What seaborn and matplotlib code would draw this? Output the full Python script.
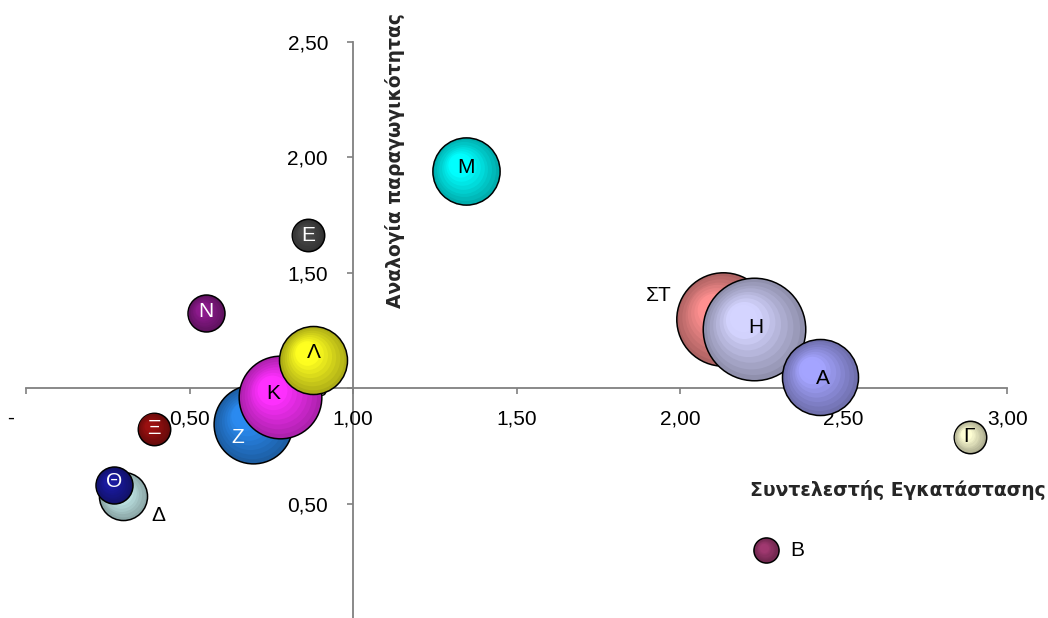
import matplotlib
matplotlib.use("Agg")
import numpy as np
import pandas as pd
import matplotlib.pyplot as plt
import matplotlib.transforms as mtransforms
from matplotlib.colors import to_rgb
from matplotlib.ticker import FuncFormatter, FixedLocator
import seaborn as sns

# data (drawing order = list order)
labels = ["Δ", "Θ", "Ξ", "Ν", "Ε", "Ζ", "Κ", "Λ", "Μ", "ΣΤ", "Η", "Α", "Γ", "Β"]
install_factor = [0.298, 0.268, 0.390, 0.549, 0.862, 0.694, 0.777, 0.879, 1.346, 2.130, 2.226, 2.427, 2.885, 2.263]
productivity = [0.535, 0.579, 0.824, 1.324, 1.662, 0.845, 0.960, 1.123, 1.940, 1.298, 1.255, 1.047, 0.787, 0.299]
bubble_size = [22, 13, 10, 13, 10, 59, 65, 44, 43, 83, 100, 55, 10, 6]

# bubble centre colours, label colours and label offsets (pixels)
centre_colors = ["#CCF5F5", "#1A1A9E", "#9A1010", "#8C1A8C", "#4A4A4A", "#2A8AF0", "#FF30FF",
                 "#FFFF20", "#00FFFF", "#FF9090", "#D4D4FF", "#A4A4FF", "#FFFFD4", "#A03870"]
text_colors = ["black", "white", "white", "white", "white", "white", "black",
               "black", "black", "black", "black", "black", "black", "black"]
label_offsets = [(35, -20), (0, 4), (0, 0), (0, 2), (0, 0), (-15, -14), (-7, 4),
                 (0, 7), (0, 4), (-64, 24), (2, 2), (3, -1), (-1, 1), (31, -1)]

x_ticks = [0, 0.5, 1.0, 1.5, 2.0, 2.5, 3.0]
y_ticks = [0.5, 1.0, 1.5, 2.0, 2.5]

df = pd.DataFrame({"label": labels, "x": install_factor, "y": productivity, "size": bubble_size})

sns.set_style("white")
plt.rcParams["font.family"] = ["Liberation Sans", "DejaVu Sans"]

fig, ax = plt.subplots(figsize=(10.48, 6.18), dpi=100)
fig.subplots_adjust(left=0.0248, right=0.961, bottom=-0.0016, top=0.932)

S_MAX = 5450
edge_palette = {lab: tuple(0.68 * c for c in to_rgb(col)) for lab, col in zip(labels, centre_colors)}

n_layers = 9
for i in range(len(df)):
    sns.scatterplot(data=df.iloc[[i]], x="x", y="y", hue="label", palette=edge_palette,
                    size="size", sizes=(0, S_MAX), size_norm=(0, 100),
                    edgecolor="black", linewidth=1.1, legend=False, ax=ax)
    s = df["size"].iloc[i] / 100 * S_MAX
    r_pt = np.sqrt(s) / 2
    c_out = np.array(edge_palette[labels[i]])
    c_in = np.array(to_rgb(centre_colors[i]))
    for k in range(1, n_layers + 1):
        f = 1 - 0.82 * k / n_layers
        t = k / n_layers
        col = c_out + (c_in - c_out) * min(1, t * 1.25)
        off = (1 - f) * 0.3 * r_pt / 72
        tr = ax.transData + mtransforms.ScaledTranslation(-off, off, fig.dpi_scale_trans)
        ax.scatter(df["x"].iloc[i], df["y"].iloc[i], s=s * f * f, color=col,
                   linewidths=0, transform=tr)

for i in range(len(df)):
    dx, dy = label_offsets[i]
    ax.annotate(labels[i], (df["x"].iloc[i], df["y"].iloc[i]), xytext=(dx * 0.72, dy * 0.72),
                textcoords="offset points", ha="center", va="center",
                fontsize=15, color=text_colors[i], zorder=5)

ax.set_xlim(0, 3)
ax.set_ylim(0, 2.5)
for side in ["top", "right"]:
    ax.spines[side].set_visible(False)
ax.spines["left"].set_position(("data", 1.0))
ax.spines["bottom"].set_position(("data", 1.0))
for side in ["left", "bottom"]:
    ax.spines[side].set_color("#808080")
    ax.spines[side].set_linewidth(1.3)
    ax.spines[side].set_zorder(0.5)

ax.xaxis.set_major_locator(FixedLocator(x_ticks))
ax.yaxis.set_major_locator(FixedLocator(y_ticks))


def greek_fmt(v, pos):
    if abs(v) < 1e-9:
        return "-     "
    return f"{v:.2f}".replace(".", ",")


ax.xaxis.set_major_formatter(FuncFormatter(greek_fmt))
ax.yaxis.set_major_formatter(FuncFormatter(greek_fmt))
ax.tick_params(axis="both", direction="out", length=4, width=1.2, color="#808080",
               labelsize=15, labelcolor="black")
ax.tick_params(axis="x", pad=11, bottom=True)
ax.tick_params(axis="y", pad=14, left=True)
ax.set_xlabel("")
ax.set_ylabel("")

ax.text(1.0398, 0.2236, "Συντελεστής Εγκατάστασης", transform=ax.transAxes,
        ha="right", va="center", fontsize=13.5, fontweight="bold", family="DejaVu Sans")
ax.text(0.376, 0.794, "Αναλογία παραγωγικότητας", transform=ax.transAxes,
        ha="center", va="center", rotation=90, fontsize=13.5, fontweight="bold",
        family="DejaVu Sans")

fig.savefig("out.png", dpi=100)
